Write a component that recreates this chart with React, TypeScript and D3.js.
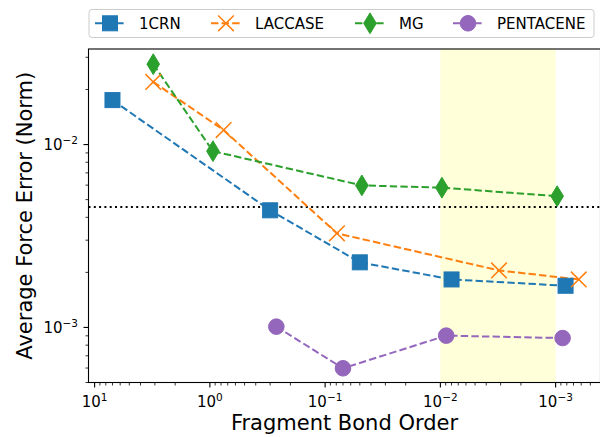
import React from "react";
import * as d3 from "d3";

// ---- data ----
const seriesNames = ["1CRN", "LACCASE", "MG", "PENTACENE"];
const crnX = [7.0, 0.3, 0.05, 0.008, 0.00082];
const crnY = [0.0175, 0.00437, 0.00227, 0.00183, 0.00169];
const laccaseX = [3.1, 0.76, 0.079, 0.0031, 0.00063];
const laccaseY = [0.022, 0.012, 0.00327, 0.00205, 0.00183];
const mgX = [3.1, 0.94, 0.048, 0.0097, 0.00097];
const mgY = [0.0275, 0.0092, 0.00598, 0.00581, 0.00522];
const pentaceneX = [0.265, 0.07, 0.0089, 0.00087];
const pentaceneY = [0.00101, 0.000598, 0.000902, 0.000875];
const thresholdY = 0.00455;
const bandX = [0.01, 0.001];
const xDomain = [11.3, 0.000408];
const yDomain = [0.0005, 0.0333];
const xMajorExps = [1, 0, -1, -2, -3];
const yMajorExps = [-2, -3];
const xLabel = "Fragment Bond Order";
const yLabel = "Average Force Error (Norm)";

const colors = ["#1f77b4", "#ff7f0e", "#2ca02c", "#9467bd"];
const markerKinds = ["square", "x", "diamond", "circle"];

const W = 600;
const H = 437;
const L = 88.5;
const R = 600.5;
const T = 49;
const B = 382.5;

const FONT = "DejaVu Sans, sans-serif";

function Marker({ kind, x, y, color }: { kind: string; x: number; y: number; color: string }) {
  if (kind === "square") {
    return <rect x={x - 7.5} y={y - 7.5} width={15} height={15} fill={color} stroke={color} strokeWidth={1} />;
  }
  if (kind === "circle") {
    return <circle cx={x} cy={y} r={7.8} fill={color} stroke={color} strokeWidth={1} />;
  }
  if (kind === "diamond") {
    const h = 10.4;
    const w = 6.3;
    return (
      <path
        d={`M${x},${y - h}L${x + w},${y}L${x},${y + h}L${x - w},${y}Z`}
        fill={color}
        stroke={color}
        strokeWidth={1}
      />
    );
  }
  const s = 7.8;
  return (
    <path
      d={`M${x - s},${y - s}L${x + s},${y + s}M${x - s},${y + s}L${x + s},${y - s}`}
      stroke={color}
      strokeWidth={1.5}
      fill="none"
    />
  );
}

function Pow({ x, y, exp, anchor }: { x: number; y: number; exp: number; anchor: string }) {
  const e = exp < 0 ? "\u2212" + Math.abs(exp) : String(exp);
  return (
    <text x={x} y={y} fontFamily={FONT} fontSize={15} textAnchor={anchor} fill="#000">
      10
      <tspan fontSize={10.5} dy={-6}>
        {e}
      </tspan>
    </text>
  );
}

export default function App() {
  const x = d3.scaleLog().domain(xDomain).range([L, R]);
  const y = d3.scaleLog().domain(yDomain).range([B, T]);

  const series = [
    { xs: crnX, ys: crnY },
    { xs: laccaseX, ys: laccaseY },
    { xs: mgX, ys: mgY },
    { xs: pentaceneX, ys: pentaceneY },
  ];

  const line = d3
    .line<[number, number]>()
    .x((d) => x(d[0]))
    .y((d) => y(d[1]));

  const minorTicks = (dom: number[]) => {
    const lo = Math.min(dom[0], dom[1]);
    const hi = Math.max(dom[0], dom[1]);
    const out: number[] = [];
    for (let e = Math.floor(Math.log10(lo)) - 1; e <= Math.ceil(Math.log10(hi)); e++) {
      for (let m = 2; m <= 9; m++) {
        const v = m * Math.pow(10, e);
        if (v >= lo && v <= hi) out.push(v);
      }
    }
    return out;
  };

  const xMinor = minorTicks(xDomain);
  const yMinor = minorTicks(yDomain);

  // legend layout
  const legendX = [95, 211, 355, 453];
  const legendY = 23.3;

  return (
    <svg width={W} height={H} style={{ position: "absolute", left: 0, top: 0 }}>
      <defs>
        <clipPath id="plotClip">
          <rect x={L} y={T} width={R - L} height={B - T} />
        </clipPath>
      </defs>
      <rect x={0} y={0} width={W} height={H} fill="#fff" />
      <g clipPath="url(#plotClip)">
        <rect
          x={x(bandX[0])}
          y={T}
          width={x(bandX[1]) - x(bandX[0])}
          height={B - T}
          fill="#ffffd9"
        />
        <line
          x1={L}
          x2={R}
          y1={y(thresholdY)}
          y2={y(thresholdY)}
          stroke="#000"
          strokeWidth={2}
          strokeDasharray="2 3.3"
        />
        {series.map((s, i) => (
          <path
            key={"l" + i}
            d={line(s.xs.map((v, j) => [v, s.ys[j]] as [number, number])) || ""}
            fill="none"
            stroke={colors[i]}
            strokeWidth={2}
            strokeDasharray="7.4 3.2"
          />
        ))}
        {series.map((s, i) =>
          s.xs.map((v, j) => (
            <Marker key={"m" + i + "-" + j} kind={markerKinds[i]} x={x(v)} y={y(s.ys[j])} color={colors[i]} />
          ))
        )}
      </g>

      {/* spines */}
      <rect x={L} y={T} width={R - L} height={B - T} fill="none" stroke="#000" strokeWidth={1.1} />

      {/* x ticks */}
      {xMajorExps.map((e) => {
        const px = x(Math.pow(10, e));
        return (
          <g key={"xt" + e}>
            <line x1={px} x2={px} y1={B} y2={B + 5} stroke="#000" strokeWidth={1.1} />
            <Pow x={px} y={406.7} exp={e} anchor="middle" />
          </g>
        );
      })}
      {xMinor.map((v, i) => (
        <line key={"xm" + i} x1={x(v)} x2={x(v)} y1={B} y2={B + 3} stroke="#000" strokeWidth={0.8} />
      ))}

      {/* y ticks */}
      {yMajorExps.map((e) => {
        const py = y(Math.pow(10, e));
        return (
          <g key={"yt" + e}>
            <line x1={L - 5} x2={L} y1={py} y2={py} stroke="#000" strokeWidth={1.1} />
            <Pow x={78} y={py + 5.5} exp={e} anchor="end" />
          </g>
        );
      })}
      {yMinor.map((v, i) => (
        <line key={"ym" + i} x1={L - 3} x2={L} y1={y(v)} y2={y(v)} stroke="#000" strokeWidth={0.8} />
      ))}

      {/* axis labels */}
      <text x={(L + R) / 2} y={430} fontFamily={FONT} fontSize={21} textAnchor="middle" fill="#000">
        {xLabel}
      </text>
      <text
        transform={`translate(32,${(T + B) / 2}) rotate(-90)`}
        fontFamily={FONT}
        fontSize={21}
        textAnchor="middle"
        fill="#000"
      >
        {yLabel}
      </text>

      {/* legend */}
      <rect x={89} y={9.5} width={505} height={28} rx={3} ry={3} fill="#fff" fillOpacity={0.8} stroke="#cccccc" strokeWidth={1} />
      {seriesNames.map((n, i) => (
        <g key={"lg" + i}>
          <line
            x1={legendX[i]}
            x2={legendX[i] + 30}
            y1={legendY}
            y2={legendY}
            stroke={colors[i]}
            strokeWidth={2}
            strokeDasharray="7.4 3.2"
          />
          <Marker kind={markerKinds[i]} x={legendX[i] + 15} y={legendY} color={colors[i]} />
          <text x={legendX[i] + 44} y={28.5} fontFamily={FONT} fontSize={15} fill="#000">
            {n}
          </text>
        </g>
      ))}
    </svg>
  );
}
